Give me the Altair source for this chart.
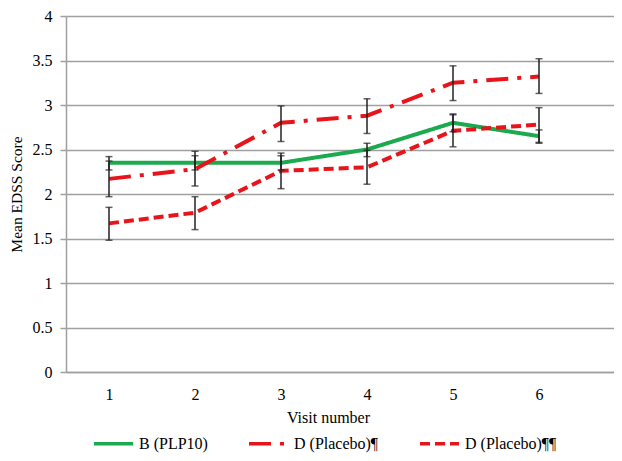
import altair as alt
import pandas as pd

visits = [1, 2, 3, 4, 5, 6]
series_names = ["B (PLP10)", "D (Placebo)¶", "D (Placebo)¶¶"]

b_mean = [2.35, 2.35, 2.35, 2.50, 2.80, 2.65]
b_low = [2.27, 2.27, 2.27, 2.42, 2.70, 2.57]
b_high = [2.42, 2.43, 2.43, 2.57, 2.90, 2.72]

d1_mean = [2.17, 2.28, 2.80, 2.88, 3.25, 3.32]
d1_low = [1.97, 2.09, 2.59, 2.68, 3.05, 3.13]
d1_high = [2.37, 2.48, 2.99, 3.07, 3.44, 3.52]

d2_mean = [1.67, 1.79, 2.26, 2.30, 2.71, 2.78]
d2_low = [1.48, 1.60, 2.06, 2.11, 2.53, 2.58]
d2_high = [1.85, 1.97, 2.46, 2.49, 2.89, 2.97]

y_ticks = [0, 0.5, 1, 1.5, 2, 2.5, 3, 3.5, 4]

rows = []
for name, m, lo, hi in zip(series_names,
                           [b_mean, d1_mean, d2_mean],
                           [b_low, d1_low, d2_low],
                           [b_high, d1_high, d2_high]):
    for v, mm, l, h in zip(visits, m, lo, hi):
        rows.append({"visit": v, "series": name, "mean": mm, "low": l, "high": h})
df = pd.DataFrame(rows)

FONT = "Liberation Serif"
GREEN = "#1DAA4E"
RED = "#E8141B"

x = alt.X("visit:Q",
          scale=alt.Scale(domain=[0.5, 6.872], nice=False, zero=False),
          axis=alt.Axis(values=visits, format="d", grid=False, ticks=False,
                        title="Visit number",
                        labelFontSize=16, labelPadding=14, titleFontSize=16,
                        titleFontWeight="normal", titleX=262, titleY=45,
                        titleBaseline="middle", titleAnchor="middle",
                        domainColor="#A0A0A0", domainWidth=1.5))
yscale = alt.Scale(domain=[0, 4], nice=False)

lines = alt.Chart(df).mark_line(strokeWidth=4).encode(
    x=x,
    y=alt.Y("mean:Q", scale=yscale,
            axis=alt.Axis(values=y_ticks, format="~g", title="Mean  EDSS Score",
                          labelFontSize=16, labelPadding=8, tickSize=6,
                          tickColor="#A0A0A0", tickWidth=1.5,
                          gridColor="#A0A0A0", gridWidth=1.5,
                          domainColor="#A0A0A0", domainWidth=1.5,
                          titleFontSize=15.5, titleFontWeight="normal",
                          titleX=-42, titleBaseline="bottom")),
    color=alt.Color("series:N",
                    scale=alt.Scale(domain=series_names, range=[GREEN, RED, RED]),
                    legend=alt.Legend(title=None, orient="none", direction="horizontal",
                                      legendX=26, legendY=406,
                                      symbolType="stroke", symbolSize=1521,
                                      symbolStrokeWidth=3.5, labelFontSize=16,
                                      columnPadding=34, labelOffset=4)),
    strokeDash=alt.StrokeDash("series:N",
                              scale=alt.Scale(domain=series_names,
                                              range=[[1, 0], [22, 9, 4, 9], [10, 5]]),
                              legend=None),
    detail="series:N",
)

bars = alt.Chart(df).mark_rule(color="#222222", strokeWidth=1.5).encode(
    x="visit:Q", y=alt.Y("low:Q", scale=yscale), y2="high:Q"
)
cap_lo = alt.Chart(df).mark_tick(color="#222222", thickness=1.5, size=7,
                                 orient="horizontal").encode(
    x="visit:Q", y=alt.Y("low:Q", scale=yscale)
)
cap_hi = alt.Chart(df).mark_tick(color="#222222", thickness=1.5, size=7,
                                 orient="horizontal").encode(
    x="visit:Q", y=alt.Y("high:Q", scale=yscale)
)

chart = alt.layer(lines, bars, cap_lo, cap_hi).properties(
    width=548, height=356,
    autosize=alt.AutoSizeParams(type="none"),
    padding={"left": 58, "top": 8, "right": 0, "bottom": 88},
    background="white",
).configure_view(fill="#DAEEF3", strokeWidth=0).configure(
    font=FONT
).configure_axis(labelColor="black", titleColor="black", labelFont=FONT, titleFont=FONT
).configure_legend(labelFont=FONT, labelColor="black")

chart.save("out.html", embed_options={"renderer": "svg", "actions": False})
